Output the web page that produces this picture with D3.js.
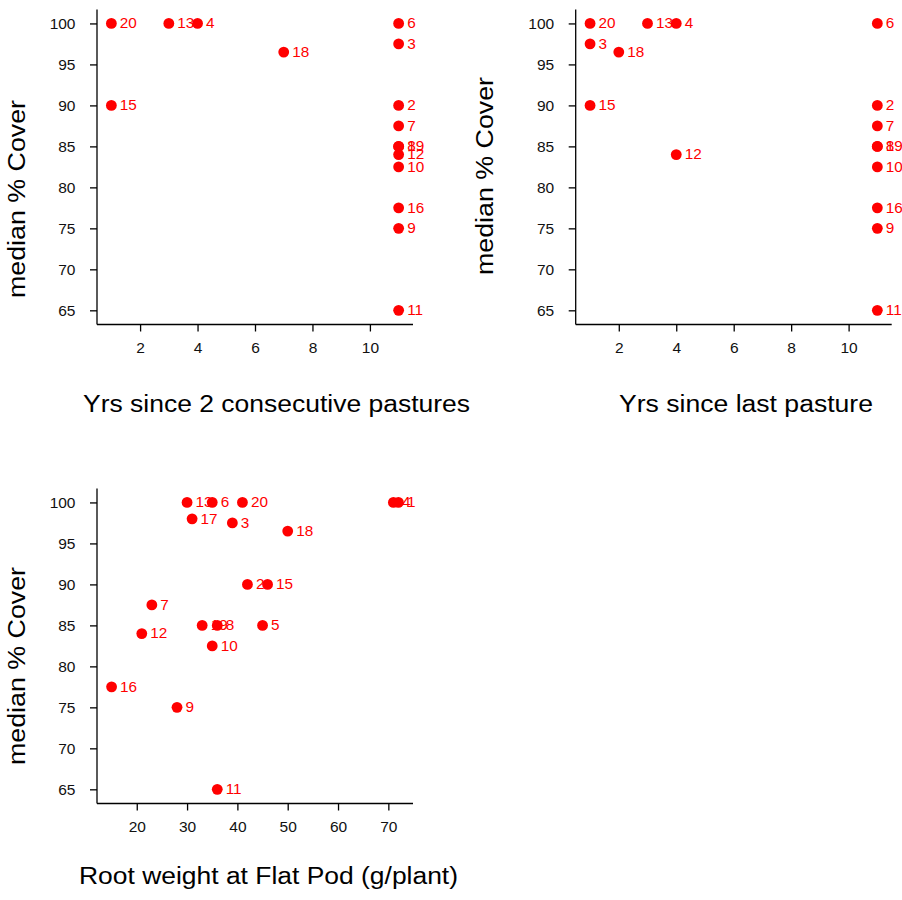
<!DOCTYPE html>
<html>
<head>
<meta charset="utf-8">
<script src="https://cdn.jsdelivr.net/npm/d3@7"></script>
<style>
  body { margin: 0; background: #fff; }
  svg { font-family: "Liberation Sans", Arial, sans-serif; }
</style>
</head>
<body>
<div id="chart"></div>
<script>
// plot ids and values (NA = null, not drawn)
const plotIds   = [1, 2, 3, 4, 5, 6, 7, 8, 9, 10, 11, 12, 13, 15, 16, 17, 18, 19, 20];
const medCover  = [100, 90, 97.5, 100, 85, 100, 87.5, 85, 75, 82.5, 65, 84, 100, 90, 77.5, 98, 96.5, 85, 100];
const yrsTwoPast = [null, 11, 11, 4, null, 11, 11, 11, 11, 11, 11, 11, 3, 1, 11, null, 7, 11, 1];
const yrsLastPast = [null, 11, 1, 4, null, 11, 11, 11, 11, 11, 11, 4, 3, 1, 11, null, 2, 11, 1];
const rootWeight = [72, 42, 39, 71, 45, 35, 23, 36, 28, 35, 36, 21, 30, 46, 15, 31, 50, 33, 41];

const yTicks = [65, 70, 75, 80, 85, 90, 95, 100];
const yrsTicks = [2, 4, 6, 8, 10];
const rootTicks = [20, 30, 40, 50, 60, 70];

const width = 902;
const height = 900;

const svg = d3
	.select("#chart")
	.append("svg")
	.attr("width", width)
	.attr("height", height);

svg.append("rect").attr("width", width).attr("height", height).attr("fill", "#fff");

// each panel: left / top of the plot box, x values, domain, labels
const panels = [
	{
		left: 97, top: 9.5, xs: yrsTwoPast, xDomain: [0.5, 11.5], ticks: yrsTicks,
		title: "Yrs since 2 consecutive pastures", titleX: 276.5, titleY: 412, titleW: 387,
		yLabX: 25, yLabY: 199
	},
	{
		left: 575.7, top: 9.5, xs: yrsLastPast, xDomain: [0.5, 11.5], ticks: yrsTicks,
		title: "Yrs since last pasture", titleX: 746, titleY: 412, titleW: 254,
		yLabX: 493, yLabY: 176
	},
	{
		left: 97, top: 488.5, xs: rootWeight, xDomain: [12.1, 74.9], ticks: rootTicks,
		title: "Root weight at Flat Pod (g/plant)", titleX: 268.5, titleY: 884, titleW: 379,
		yLabX: 25, yLabY: 666
	},
];

const boxW = 316;
const boxH = 315;

panels.forEach((p) => {
	const g = svg.append("g").attr("transform", `translate(${p.left},${p.top})`);

	const x = d3.scaleLinear().domain(p.xDomain).range([0, boxW]);
	const y = d3.scaleLinear().domain([63.27, 101.7]).range([boxH, 0]);

	// x axis
	const xAxis = g
		.append("g")
		.attr("transform", `translate(0,${boxH})`)
		.call(d3.axisBottom(x).tickValues(p.ticks).tickSize(7).tickSizeOuter(0).tickPadding(6));
	xAxis.select(".domain").attr("d", `M0,0H${boxW}`);

	// y axis
	const yAxis = g
		.append("g")
		.call(d3.axisLeft(y).tickValues(yTicks).tickSize(7).tickSizeOuter(0).tickPadding(14.5));
	yAxis.select(".domain").attr("d", `M0,0V${boxH}`);

	[xAxis, yAxis].forEach((ax) => {
		ax.selectAll("path, line").attr("stroke", "#000").attr("stroke-width", 1.3);
		ax.selectAll("text")
			.attr("font-size", 15.5)
			.attr("fill", "#111")
			.attr("font-family", '"Liberation Sans", Arial, sans-serif');
	});
	xAxis.selectAll("text").attr("dy", "0.71em").attr("y", 17.5);

	const pts = plotIds
		.map((id, i) => ({ id: id, xv: p.xs[i], yv: medCover[i] }))
		.filter((d) => d.xv !== null);

	g.selectAll("circle")
		.data(pts)
		.enter()
		.append("circle")
		.attr("cx", (d) => x(d.xv))
		.attr("cy", (d) => y(d.yv))
		.attr("r", 5.4)
		.attr("fill", "#ff0000");

	g.selectAll("text.lab")
		.data(pts)
		.enter()
		.append("text")
		.attr("class", "lab")
		.attr("x", (d) => x(d.xv) + 8.5)
		.attr("y", (d) => y(d.yv) + 4.7)
		.attr("font-size", 15.3)
		.attr("fill", "#ff0000")
		.text((d) => d.id);

	// axis titles
	svg.append("text")
		.attr("x", p.titleX)
		.attr("y", p.titleY)
		.attr("text-anchor", "middle")
		.attr("font-size", 23)
		.attr("textLength", p.titleW)
		.attr("lengthAdjust", "spacingAndGlyphs")
		.attr("fill", "#000")
		.text(p.title);

	svg.append("text")
		.attr("transform", `translate(${p.yLabX},${p.yLabY}) rotate(-90)`)
		.attr("text-anchor", "middle")
		.attr("font-size", 23)
		.attr("textLength", 198)
		.attr("lengthAdjust", "spacingAndGlyphs")
		.attr("fill", "#000")
		.text("median % Cover");
});
</script>
</body>
</html>
